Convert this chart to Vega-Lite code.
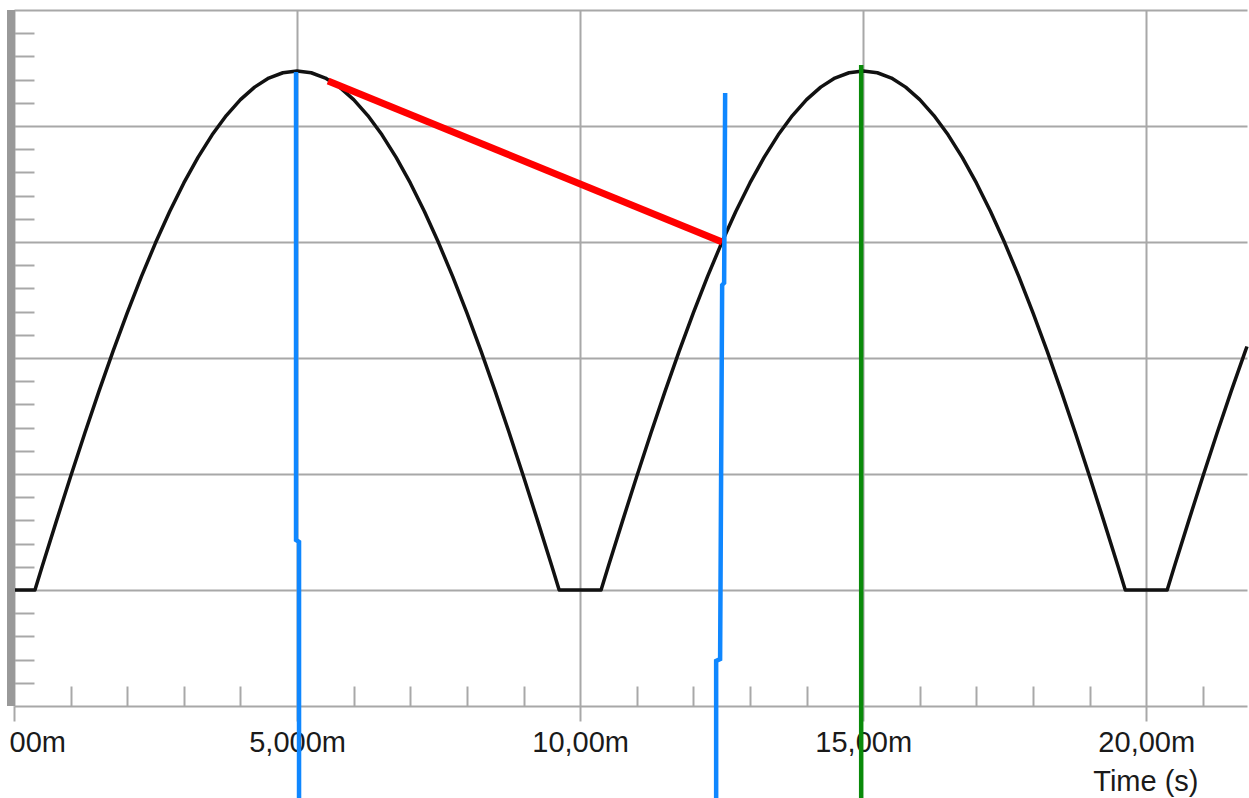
{
  "$schema": "https://vega.github.io/schema/vega-lite/v6.json",
  "width": 1233,
  "height": 696,
  "autosize": {"type": "none"},
  "padding": {"left": 14, "top": 10, "right": 2, "bottom": 92},
  "background": "white",
  "config": {"view": {"stroke": null}},
  "datasets": {
    "wave": [
      {"t": 0, "v": 0}, {"t": 0.37, "v": 0}, {"t": 0.5, "v": 0.207}, {"t": 0.75, "v": 0.596}, {"t": 1, "v": 0.979}, {"t": 1.25, "v": 1.351}, {"t": 1.5, "v": 1.712}, {"t": 1.75, "v": 2.059}, {"t": 2, "v": 2.389}, {"t": 2.25, "v": 2.701}, {"t": 2.5, "v": 2.993}, {"t": 2.75, "v": 3.263}, {"t": 3, "v": 3.509}, {"t": 3.25, "v": 3.729}, {"t": 3.5, "v": 3.924}, {"t": 3.75, "v": 4.09}, {"t": 4, "v": 4.227}, {"t": 4.25, "v": 4.335}, {"t": 4.5, "v": 4.413}, {"t": 4.75, "v": 4.459}, {"t": 5, "v": 4.475},
      {"t": 5.25, "v": 4.459}, {"t": 5.5, "v": 4.413}, {"t": 5.75, "v": 4.335}, {"t": 6, "v": 4.227}, {"t": 6.25, "v": 4.09}, {"t": 6.5, "v": 3.924}, {"t": 6.75, "v": 3.729}, {"t": 7, "v": 3.509}, {"t": 7.25, "v": 3.263}, {"t": 7.5, "v": 2.993}, {"t": 7.75, "v": 2.701}, {"t": 8, "v": 2.389}, {"t": 8.25, "v": 2.059}, {"t": 8.5, "v": 1.712}, {"t": 8.75, "v": 1.351}, {"t": 9, "v": 0.979}, {"t": 9.25, "v": 0.596}, {"t": 9.5, "v": 0.207}, {"t": 9.63, "v": 0},
      {"t": 10.37, "v": 0}, {"t": 10.5, "v": 0.207}, {"t": 10.75, "v": 0.596}, {"t": 11, "v": 0.979}, {"t": 11.25, "v": 1.351}, {"t": 11.5, "v": 1.712}, {"t": 11.75, "v": 2.059}, {"t": 12, "v": 2.389}, {"t": 12.25, "v": 2.701}, {"t": 12.5, "v": 2.993}, {"t": 12.75, "v": 3.263}, {"t": 13, "v": 3.509}, {"t": 13.25, "v": 3.729}, {"t": 13.5, "v": 3.924}, {"t": 13.75, "v": 4.09}, {"t": 14, "v": 4.227}, {"t": 14.25, "v": 4.335}, {"t": 14.5, "v": 4.413}, {"t": 14.75, "v": 4.459}, {"t": 15, "v": 4.475},
      {"t": 15.25, "v": 4.459}, {"t": 15.5, "v": 4.413}, {"t": 15.75, "v": 4.335}, {"t": 16, "v": 4.227}, {"t": 16.25, "v": 4.09}, {"t": 16.5, "v": 3.924}, {"t": 16.75, "v": 3.729}, {"t": 17, "v": 3.509}, {"t": 17.25, "v": 3.263}, {"t": 17.5, "v": 2.993}, {"t": 17.75, "v": 2.701}, {"t": 18, "v": 2.389}, {"t": 18.25, "v": 2.059}, {"t": 18.5, "v": 1.712}, {"t": 18.75, "v": 1.351}, {"t": 19, "v": 0.979}, {"t": 19.25, "v": 0.596}, {"t": 19.5, "v": 0.207}, {"t": 19.63, "v": 0},
      {"t": 20.37, "v": 0}, {"t": 20.5, "v": 0.207}, {"t": 20.75, "v": 0.596}, {"t": 21, "v": 0.979}, {"t": 21.25, "v": 1.351}, {"t": 21.5, "v": 1.712}, {"t": 21.75, "v": 2.059}, {"t": 21.78, "v": 2.099}
    ],
    "red": [
      {"i": 0, "t": 5.548, "v": 4.388},
      {"i": 1, "t": 12.509, "v": 3.0}
    ],
    "blue1": [
      {"i": 0, "t": 4.982, "v": 4.466},
      {"i": 1, "t": 4.982, "v": 0.431},
      {"i": 2, "t": 5.035, "v": 0.414},
      {"i": 3, "t": 5.035, "v": -1.793}
    ],
    "blue2": [
      {"i": 0, "t": 12.562, "v": 4.284},
      {"i": 1, "t": 12.544, "v": 2.647},
      {"i": 2, "t": 12.509, "v": 2.629},
      {"i": 3, "t": 12.473, "v": -0.595},
      {"i": 4, "t": 12.403, "v": -0.612},
      {"i": 5, "t": 12.403, "v": -1.793}
    ],
    "green": [
      {"i": 0, "t": 14.965, "v": 4.526},
      {"i": 1, "t": 14.965, "v": -1.793}
    ],
    "bar": [
      {"t": 0}
    ]
  },
  "resolve": {"axis": {"x": "independent", "y": "independent"}},
  "layer": [
    {
      "data": {"name": "wave"},
      "mark": {"type": "line", "color": "#111111", "strokeWidth": 3.5, "strokeJoin": "round"},
      "encoding": {
        "x": {
          "field": "t", "type": "quantitative",
          "scale": {"domain": [0, 21.78], "nice": false, "zero": false},
          "axis": {
            "orient": "bottom",
            "values": [0, 5, 10, 15, 20],
            "grid": true, "gridColor": "#a8a8a8", "gridWidth": 2, "gridOpacity": 1,
            "domain": true, "domainColor": "#a8a8a8", "domainWidth": 2,
            "ticks": true, "tickSize": 15, "tickColor": "#a8a8a8", "tickWidth": 2,
            "labels": true,
            "labelExpr": "datum.value == 0 ? '00m' : datum.value == 5 ? '5,000m' : datum.value + ',00m'",
            "labelFont": "Liberation Sans", "labelFontSize": 29, "labelColor": "#1a1a1a",
            "labelPadding": 7, "labelFlush": true, "labelFlushOffset": 5, "labelOverlap": false,
            "title": "Time (s)",
            "titleFont": "Liberation Sans", "titleFontSize": 29, "titleFontWeight": "normal", "titleColor": "#1a1a1a",
            "titleX": 1184, "titleY": 84, "titleAlign": "right", "titleBaseline": "alphabetic", "titleAngle": 0
          }
        },
        "y": {
          "field": "v", "type": "quantitative",
          "scale": {"domain": [-1, 5], "nice": false, "zero": false},
          "axis": {
            "orient": "left",
            "values": [0, 1, 2, 3, 4, 5],
            "grid": true, "gridColor": "#a8a8a8", "gridWidth": 2, "gridOpacity": 1,
            "domain": false, "ticks": false, "labels": false, "title": null
          }
        }
      }
    },
    {
      "data": {"name": "red"},
      "mark": {"type": "line", "color": "#ff0000", "strokeWidth": 7, "strokeCap": "butt"},
      "encoding": {
        "x": {
          "field": "t", "type": "quantitative",
          "axis": {
            "orient": "bottom", "offset": -20,
            "values": [1, 2, 3, 4, 6, 7, 8, 9, 11, 12, 13, 14, 16, 17, 18, 19, 21],
            "grid": false, "domain": false, "labels": false, "title": null,
            "ticks": true, "tickSize": 20, "tickColor": "#a8a8a8", "tickWidth": 2
          }
        },
        "y": {
          "field": "v", "type": "quantitative",
          "axis": {
            "orient": "left", "offset": -20,
            "values": [-0.8, -0.6, -0.4, -0.2, 0.2, 0.4, 0.6, 0.8, 1.2, 1.4, 1.6, 1.8, 2.2, 2.4, 2.6, 2.8, 3.2, 3.4, 3.6, 3.8, 4.2, 4.4, 4.6, 4.8],
            "grid": false, "domain": false, "labels": false, "title": null,
            "ticks": true, "tickSize": 20, "tickColor": "#a8a8a8", "tickWidth": 2
          }
        },
        "order": {"field": "i"}
      }
    },
    {
      "data": {"name": "blue1"},
      "mark": {"type": "line", "color": "#0f87ff", "strokeWidth": 4.5, "strokeCap": "butt", "clip": false},
      "encoding": {
        "x": {"field": "t", "type": "quantitative", "axis": null},
        "y": {"field": "v", "type": "quantitative", "axis": null},
        "order": {"field": "i"}
      }
    },
    {
      "data": {"name": "blue2"},
      "mark": {"type": "line", "color": "#0f87ff", "strokeWidth": 4.5, "strokeCap": "butt", "clip": false},
      "encoding": {
        "x": {"field": "t", "type": "quantitative", "axis": null},
        "y": {"field": "v", "type": "quantitative", "axis": null},
        "order": {"field": "i"}
      }
    },
    {
      "data": {"name": "green"},
      "mark": {"type": "line", "color": "#0a8a0a", "strokeWidth": 4.5, "strokeCap": "butt", "clip": false},
      "encoding": {
        "x": {"field": "t", "type": "quantitative", "axis": null},
        "y": {"field": "v", "type": "quantitative", "axis": null},
        "order": {"field": "i"}
      }
    },
    {
      "data": {"name": "bar"},
      "mark": {"type": "rule", "color": "#999999", "strokeWidth": 8, "xOffset": -3},
      "encoding": {
        "x": {"field": "t", "type": "quantitative", "axis": null}
      }
    }
  ]
}
